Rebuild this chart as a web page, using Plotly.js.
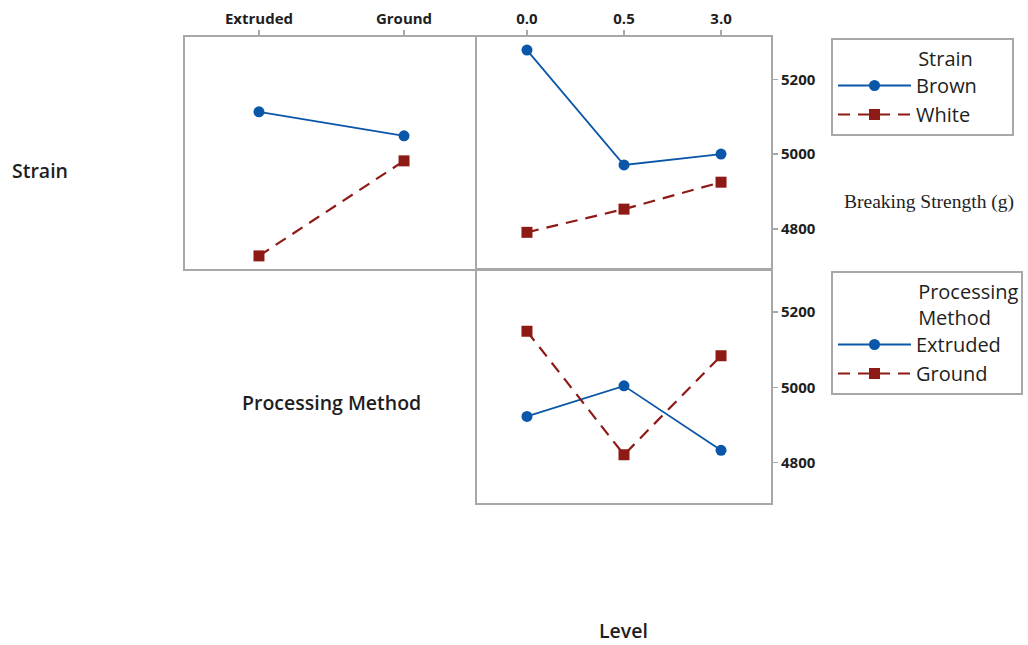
<!DOCTYPE html>
<html>
<head>
<meta charset="utf-8">
<script src="https://cdn.plot.ly/plotly-3.0.1.min.js"></script>
<style>
  html, body { margin: 0; padding: 0; background: #fff; }
  #chart { width: 1028px; height: 645px; }
</style>
</head>
<body>
<div id="chart"></div>
<script>
// Interaction plot for Breaking Strength (g): fitted means
const methods = ['Extruded', 'Ground'];
const levels = ['0.0', '0.5', '3.0'];

// Strain x Processing Method
const brownByMethod = [5113, 5049];
const whiteByMethod = [4728, 4982];

// Strain x Level
const brownByLevel = [5278, 4971, 5000];
const whiteByLevel = [4791, 4853, 4925];

// Processing Method x Level
const extrudedByLevel = [4923, 5004, 4833];
const groundByLevel = [5149, 4821, 5084];

const yTicks = [4800, 5000, 5200];

const BLUE = '#0a56a8';
const RED = '#8e1a16';
const FRAME = '#a8a8a8';
const TEXT = '#1e1e1e';
const SANS = 'Open Sans, Noto Sans, sans-serif';

const W = 1028, H = 645;
const px = v => v / W;
const py = v => 1 - v / H;
const pad = n => '\u00a0'.repeat(n);

function solid(name, x, y, xa, ya, legend, show) {
  return {
    type: 'scatter', mode: 'lines+markers', name: name, x: x, y: y,
    xaxis: xa, yaxis: ya, legend: legend, showlegend: show, legendgroup: legend + name,
    line: { color: BLUE, width: 1.8 },
    marker: { symbol: 'circle', size: 11, color: BLUE }
  };
}
function dashed(name, x, y, xa, ya, legend, show) {
  return {
    type: 'scatter', mode: 'lines+markers', name: name, x: x, y: y,
    xaxis: xa, yaxis: ya, legend: legend, showlegend: show, legendgroup: legend + name,
    line: { color: RED, width: 2.2, dash: '12px,8px' },
    marker: { symbol: 'square', size: 11, color: RED }
  };
}

const data = [
  solid('Brown', methods, brownByMethod, 'x', 'y', 'legend', true),
  dashed('White', methods, whiteByMethod, 'x', 'y', 'legend', true),
  solid('Brown', levels, brownByLevel, 'x2', 'y2', 'legend', false),
  dashed('White', levels, whiteByLevel, 'x2', 'y2', 'legend', false),
  solid('Extruded', levels, extrudedByLevel, 'x3', 'y3', 'legend2', true),
  dashed('Ground', levels, groundByLevel, 'x3', 'y3', 'legend2', true)
];

const yRange = [4693, 5313];
const frame = { showline: true, mirror: true, linecolor: FRAME, linewidth: 2, zeroline: false, showgrid: false, fixedrange: true };
const tickFont = { family: SANS, size: 15, color: TEXT, weight: 700 };
const labelFont = { family: SANS, size: 19.5, color: TEXT, weight: 600 };
const legendFont = { family: SANS, size: 20, color: TEXT };

const rowTop = [py(269), py(37)];
const rowBottom = [py(503), py(269.5)];
const colLeft = [px(185), px(478)];
const colRight = [px(477), px(771)];

function label(text, x, y, font) {
  return { text: text, x: px(x), y: py(y), xref: 'paper', yref: 'paper',
           xanchor: 'center', yanchor: 'middle', showarrow: false, font: font };
}

const layout = {
  width: W, height: H,
  margin: { l: 0, r: 0, t: 0, b: 0, autoexpand: false },
  paper_bgcolor: '#fff', plot_bgcolor: '#fff',
  font: { family: SANS, color: TEXT },
  xaxis: Object.assign({}, frame, {
    domain: colLeft, anchor: 'y', side: 'top', type: 'category', range: [-0.51, 1.51],
    ticks: 'outside', ticklen: 5, tickwidth: 1.5, tickcolor: FRAME, tickfont: tickFont
  }),
  yaxis: Object.assign({}, frame, {
    domain: rowTop, anchor: 'x', range: yRange, showticklabels: false, ticks: ''
  }),
  xaxis2: Object.assign({}, frame, {
    domain: colRight, anchor: 'y2', side: 'top', type: 'category', range: [-0.515, 2.515],
    ticks: 'outside', ticklen: 5, tickwidth: 1.5, tickcolor: FRAME, tickfont: tickFont
  }),
  yaxis2: Object.assign({}, frame, {
    domain: rowTop, anchor: 'x2', side: 'right', range: yRange,
    tickvals: yTicks, ticktext: yTicks.map(String),
    ticks: 'outside', ticklen: 5, tickwidth: 1.5, tickcolor: FRAME, tickfont: tickFont
  }),
  xaxis3: Object.assign({}, frame, {
    domain: colRight, anchor: 'y3', type: 'category', range: [-0.515, 2.515],
    categoryarray: levels, categoryorder: 'array', showticklabels: false, ticks: ''
  }),
  yaxis3: Object.assign({}, frame, {
    domain: rowBottom, anchor: 'x3', side: 'right', range: yRange,
    tickvals: yTicks, ticktext: yTicks.map(String),
    ticks: 'outside', ticklen: 5, tickwidth: 1.5, tickcolor: FRAME, tickfont: tickFont
  }),
  legend: {
    x: px(831), y: py(38), xanchor: 'left', yanchor: 'top',
    bordercolor: FRAME, borderwidth: 2, bgcolor: '#fff',
    itemwidth: 73, tracegroupgap: 0,
    font: legendFont,
    title: { text: pad(16) + 'Strain' + pad(7), font: legendFont }
  },
  legend2: {
    x: px(831), y: py(271), xanchor: 'left', yanchor: 'top',
    bordercolor: FRAME, borderwidth: 2, bgcolor: '#fff',
    itemwidth: 73, tracegroupgap: 0,
    font: legendFont,
    title: { text: pad(16) + 'Processing<br>' + pad(16) + 'Method', font: legendFont }
  },
  annotations: [
    label('Strain', 40, 170, labelFont),
    label('Processing Method', 331, 402, labelFont),
    label('Level', 623, 630, labelFont),
    label('Breaking Strength (g)', 929, 202,
          { family: 'Liberation Serif, DejaVu Serif, serif', size: 19.5, color: TEXT })
  ]
};

Plotly.newPlot('chart', data, layout, { displayModeBar: false, staticPlot: true });
</script>
</body>
</html>
